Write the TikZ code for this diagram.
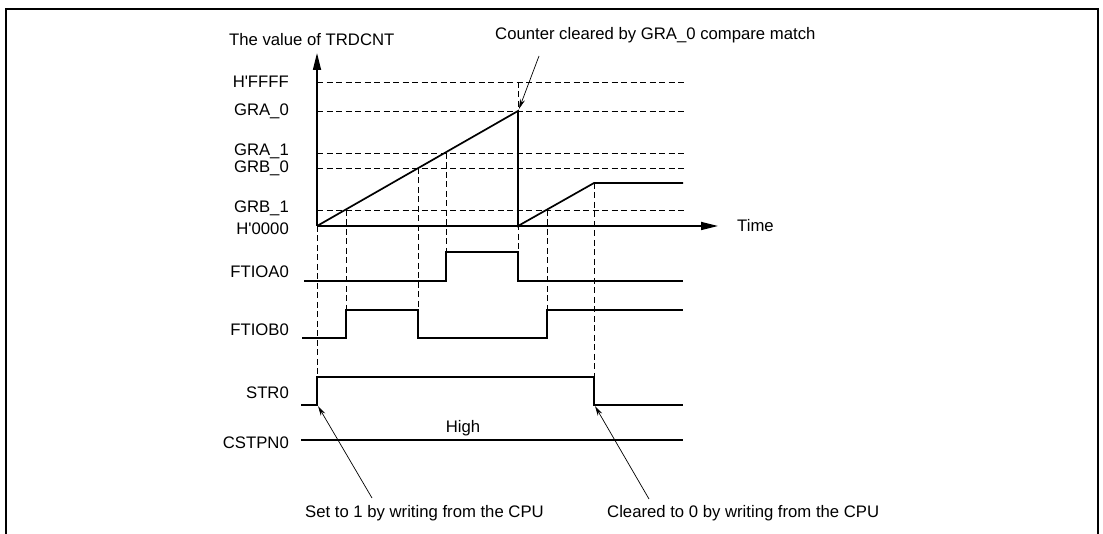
\documentclass[tikz,border=0pt]{standalone}
\usepackage{fontspec}
\setmainfont{Liberation Sans}
\usetikzlibrary{arrows.meta}
\begin{document}
\begin{tikzpicture}[x=1pt,y=-1pt,
  sig/.style={line width=1.7pt},
  dsh/.style={line width=0.85pt, dash pattern=on 6pt off 3.5pt},
  lbl/.style={font=\fontsize{16.7}{20}\selectfont, inner sep=0pt},
  ann/.style={line width=0.7pt, -{Stealth[length=10pt,width=5pt]}},
  axisarrow/.style={line width=1.7pt, -{Triangle[length=17pt,width=8pt]}}]
\useasboundingbox (0,0) rectangle (1103,534);
% frame
\draw[line width=2pt] (6,534) -- (6,9) -- (1098,9) -- (1098,534);
% key coordinates
\coordinate (O) at (317,226);
\coordinate (Ytop) at (317,53);
\coordinate (Xend) at (718,226);
\coordinate (P0) at (518,111);
\coordinate (P0b) at (518,226);
\coordinate (P1) at (594,183);
\coordinate (P1e) at (683,183);
% dashed level lines
\foreach \n/\y in {ffff/82, gra0/111, gra1/153, grb0/168, grb1/210}{
  \coordinate (L\n) at (317,\y);
  \coordinate (R\n) at (685,\y);
  \draw[dsh] (L\n) -- (R\n);
}
% dashed verticals
\draw[dsh] (317,226) -- (317,377);
\draw[dsh] (346,210) -- (346,310);
\draw[dsh] (418,168) -- (418,310);
\draw[dsh] (446,153) -- (446,252);
\draw[dsh] (518,82) -- (518,252);
\draw[dsh] (547,210) -- (547,310);
\draw[dsh] (594,183) -- (594,377);
% axes
\draw[axisarrow] (O) -- (Ytop);
\draw[axisarrow] (O) -- (Xend);
% counter value
\draw[sig, line join=miter] (O) -- (P0) -- (P0b) -- (P1) -- (P1e);
% signals
\draw[sig] (304,281) -- (446,281) -- (446,252) -- (518,252) -- (518,281) -- (683,281);
\draw[sig] (302,338) -- (346,338) -- (346,310) -- (418,310) -- (418,338) -- (547,338) -- (547,310) -- (683,310);
\draw[sig] (301,405) -- (317,405) -- (317,377) -- (594,377) -- (594,405) -- (683,405);
\draw[sig] (301,440) -- (683,440);
% labels
\node[lbl, anchor=west] (title) at (229,40) {The value of TRDCNT};
\node[lbl, anchor=east] (tffff) at (289,82) {H\textquotesingle FFFF};
\node[lbl, anchor=east] (tgra0) at (289,111) {GRA\_0};
\node[lbl, anchor=east] (tgra1) at (289,151) {GRA\_1};
\node[lbl, anchor=east] (tgrb0) at (289,168) {GRB\_0};
\node[lbl, anchor=east] (tgrb1) at (289,208) {GRB\_1};
\node[lbl, anchor=east] (th0) at (289,229) {H\textquotesingle 0000};
\node[lbl, anchor=west] (time) at (737,226) {Time};
\node[lbl, anchor=east] (tfa) at (289,272) {FTIOA0};
\node[lbl, anchor=east] (tfb) at (289,330) {FTIOB0};
\node[lbl, anchor=east] (tstr) at (289,393) {STR0};
\node[lbl, anchor=east] (tcst) at (289,443) {CSTPN0};
\node[lbl] (high) at (463,428) {High};
\node[lbl, anchor=west] (clr) at (495,35) {Counter cleared by GRA\_0 compare match};
\node[lbl, anchor=west] (set1) at (305,513) {Set to 1 by writing from the CPU};
\node[lbl, anchor=west] (clr0) at (607,513) {Cleared to 0 by writing from the CPU};
% annotation arrows
\coordinate (a1s) at (539,56);
\coordinate (a1e) at (519,109);
\draw[ann] (a1s) -- (a1e);
\coordinate (a2s) at (372,498);
\coordinate (a2e) at (318,406);
\draw[ann] (a2s) -- (a2e);
\coordinate (a3s) at (649,499);
\coordinate (a3e) at (595,406);
\draw[ann] (a3s) -- (a3e);
\end{tikzpicture}
\end{document}
